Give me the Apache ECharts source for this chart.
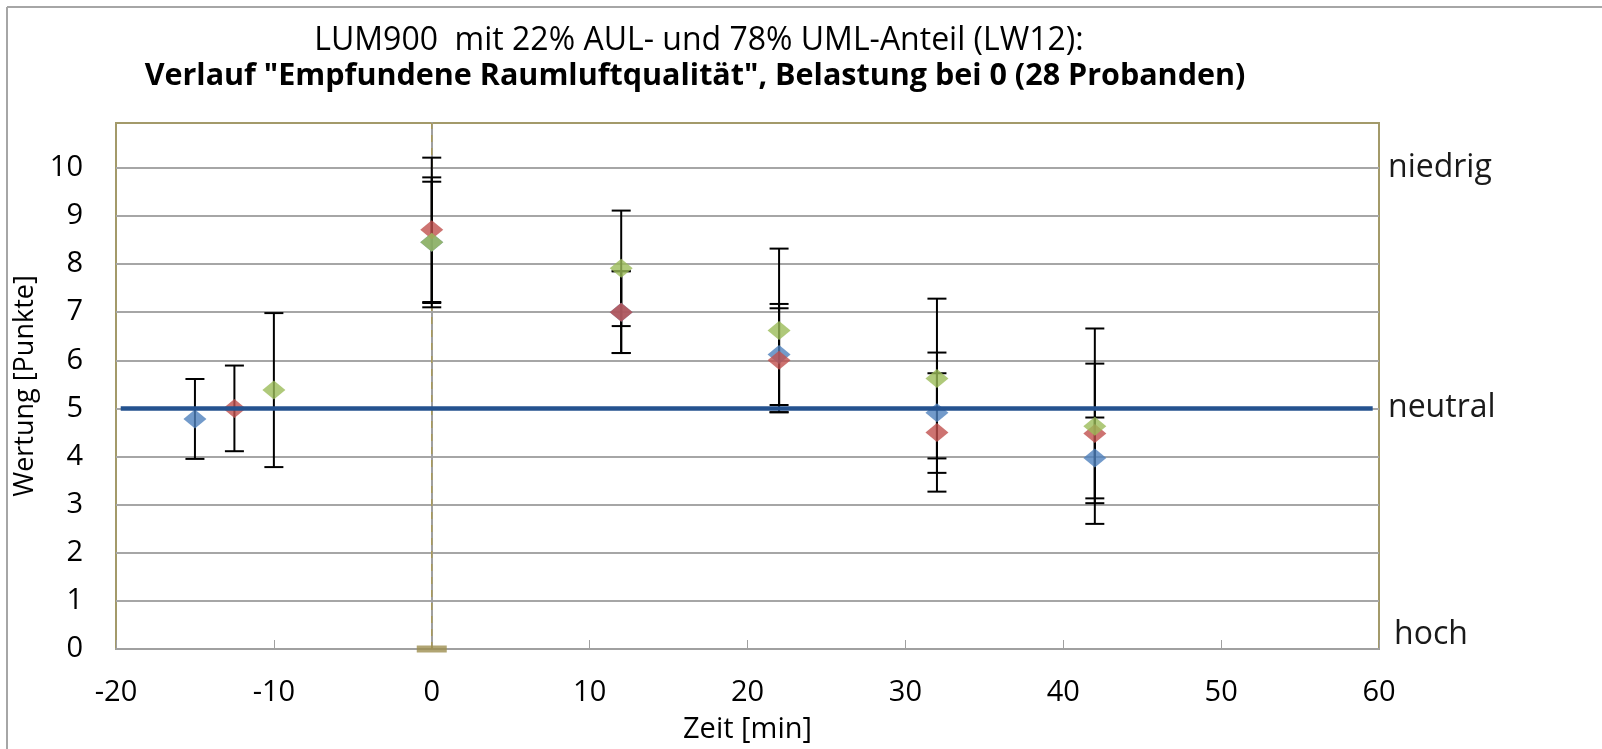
<!DOCTYPE html>
<html>
<head>
<meta charset="utf-8">
<script src="https://cdn.jsdelivr.net/npm/echarts@6/dist/echarts.min.js"></script>
<style>
  html, body { margin: 0; padding: 0; background: #fff; }
  #chart { width: 1602px; height: 749px; }
</style>
</head>
<body>
<div id="chart"></div>
<script>
const blueX = [-15, 0, 12, 22, 32, 42]
const blueY = [4.78, 8.45, 7.0, 6.12, 4.91, 3.97]
const blueErr = [0.83, 1.35, 0.85, 1.05, 1.25, 0.84]

const redX = [-12.5, 0, 12, 22, 32, 42]
const redY = [5.0, 8.71, 7.0, 6.0, 4.5, 4.48]
const redErr = [0.89, 1.5, 0.85, 1.08, 1.23, 1.45]

const greenX = [-10, 0, 12, 22, 32, 42]
const greenY = [5.38, 8.45, 7.91, 6.62, 5.62, 4.63]
const greenErr = [1.6, 1.26, 1.2, 1.7, 1.66, 2.03]

const neutralX = [-19.7, 59.6]
const neutralY = [5, 5]

const xTicks = [-20, -10, 0, 10, 20, 30, 40, 50, 60]
const rightLabels = { 0: 'hoch', 5: 'neutral', 10: 'niedrig' }

const FONT = 'Open Sans'
const Y_MAX = 10.93

const toPoints = (xs, ys) => xs.map((x, i) => [x, ys[i]])
const toBars = (xs, ys, es) => xs.map((x, i) => [x, ys[i] - es[i], ys[i] + es[i]])

// Fehlerbalken mit Endkappen
const renderError = (params, api) => {
  const x = api.value(0)
  const lo = api.coord([x, api.value(1)])
  const hi = api.coord([x, api.value(2)])
  const w = 9.5
  const style = { stroke: '#000', lineWidth: 2 }
  return {
    type: 'group',
    children: [
      { type: 'line', shape: { x1: lo[0], y1: lo[1], x2: hi[0], y2: hi[1] }, style },
      { type: 'line', shape: { x1: hi[0] - w, y1: hi[1], x2: hi[0] + w, y2: hi[1] }, style },
      { type: 'line', shape: { x1: lo[0] - w, y1: lo[1], x2: lo[0] + w, y2: lo[1] }, style }
    ]
  }
}

const errorSeries = (xs, ys, es) => ({
  type: 'custom',
  renderItem: renderError,
  data: toBars(xs, ys, es),
  encode: { x: 0, y: [1, 2] },
  z: 2,
  silent: true
})

const markerSeries = (xs, ys, color) => ({
  type: 'scatter',
  data: toPoints(xs, ys),
  symbol: 'diamond',
  symbolSize: [23, 19],
  itemStyle: { color },
  z: 3
})

const chart = echarts.init(document.getElementById('chart'))

chart.setOption({
  backgroundColor: '#fff',
  animation: false,
  title: [
    {
      text: 'LUM900  mit 22% AUL- und 78% UML-Anteil (LW12):',
      left: 694, top: 20, textAlign: 'center',
      textStyle: { fontFamily: FONT, fontSize: 32, fontWeight: 'normal', color: '#000' }
    },
    {
      text: 'Verlauf "Empfundene Raumluftqualität", Belastung bei 0 (28 Probanden)',
      left: 690, top: 56, textAlign: 'center',
      textStyle: { fontFamily: FONT, fontSize: 30.5, fontWeight: 'bold', color: '#000' }
    }
  ],
  graphic: [
    { type: 'line', shape: { x1: 7, y1: 7, x2: 1602, y2: 7 }, style: { stroke: '#a6a6a6', lineWidth: 2 } },
    { type: 'line', shape: { x1: 7, y1: 7, x2: 7, y2: 749 }, style: { stroke: '#a6a6a6', lineWidth: 2 } }
  ],
  grid: {
    left: 116, right: 223, top: 123, bottom: 96,
    show: true, borderColor: '#a39a6a', borderWidth: 2, backgroundColor: 'transparent'
  },
  xAxis: {
    type: 'value', min: -20, max: 60, interval: 10,
    name: 'Zeit [min]', nameLocation: 'middle', nameGap: 66,
    nameTextStyle: { fontFamily: FONT, fontSize: 29, color: '#000' },
    axisLine: { lineStyle: { color: '#a0a0a0', width: 2 } },
    axisTick: { inside: true, length: 9, lineStyle: { color: '#a0a0a0', width: 1 } },
    axisLabel: {
      fontFamily: FONT, fontSize: 29, color: '#000', margin: 29,
      formatter: v => (xTicks.includes(v) ? String(v) : '')
    },
    splitLine: { show: false }
  },
  yAxis: [
    {
      type: 'value', min: 0, max: Y_MAX, interval: 1,
      name: 'Wertung [Punkte]', nameLocation: 'middle', nameGap: 50,
      nameTextStyle: { fontFamily: FONT, fontSize: 27, color: '#000' },
      axisLine: { show: true, lineStyle: { color: '#a0a0a0', width: 2 } },
      axisTick: { show: false },
      axisLabel: {
        fontFamily: FONT, fontSize: 29, color: '#000', margin: 33,
        showMaxLabel: false,
        formatter: v => (v <= 10 ? String(v) : '')
      },
      splitLine: { show: true, showMaxLine: false, lineStyle: { color: '#a6a6a6', width: 2 } }
    },
    {
      type: 'value', min: 0, max: Y_MAX, interval: 5, position: 'right',
      axisLine: { show: false }, axisTick: { show: false }, splitLine: { show: false },
      axisLabel: {
        fontFamily: FONT, fontSize: 32, color: '#1a1a1a', margin: 9,
        showMaxLabel: false,
        formatter: v => (v === 0 ? '{h|hoch}' : (rightLabels[v] || '')),
        rich: { h: { fontFamily: FONT, fontSize: 32, color: '#1a1a1a', padding: [0, 0, 28, 6] } }
      }
    }
  ],
  series: [
    {
      type: 'line',
      data: [[0, 0], [0, Y_MAX]],
      symbol: 'none',
      lineStyle: { color: '#a89a5c', width: 1.5, type: [7, 6] },
      z: 1, silent: true
    },
    {
      type: 'scatter',
      data: [[0, 0]],
      symbol: 'rect', symbolSize: [30, 7],
      itemStyle: { color: '#9e8f50' },
      z: 4, silent: true
    },
    errorSeries(blueX, blueY, blueErr),
    errorSeries(redX, redY, redErr),
    errorSeries(greenX, greenY, greenErr),
    markerSeries(blueX, blueY, '#4f81bd'),
    markerSeries(redX, redY, '#c0504d'),
    markerSeries(greenX, greenY, '#9bbb59'),
    {
      type: 'line',
      data: toPoints(neutralX, neutralY),
      symbol: 'none',
      lineStyle: { color: '#24528f', width: 4.5 },
      z: 5, silent: true
    }
  ]
})
</script>
</body>
</html>
